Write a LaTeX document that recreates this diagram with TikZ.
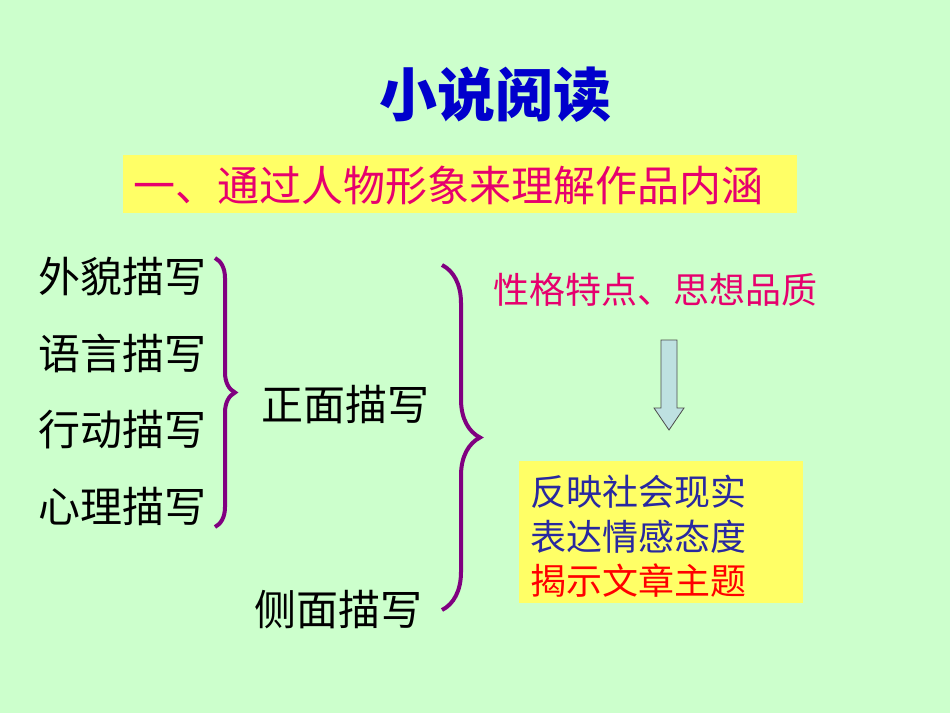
\documentclass[tikz,border=0pt]{standalone}
\usepackage{fontspec}
\newfontfamily\cjk{Noto Sans CJK SC}
\usetikzlibrary{decorations.pathreplacing}
\definecolor{bg}{RGB}{204,255,204}
\definecolor{ylw}{RGB}{255,255,102}
\definecolor{mag}{RGB}{230,0,110}
\definecolor{dblue}{RGB}{40,40,160}
\definecolor{purp}{RGB}{128,0,128}
\definecolor{arr}{RGB}{190,225,225}
\tikzset{
 t/.style={font=\cjk\fontsize{36}{40}\selectfont, inner sep=0pt},
 big/.style={font=\cjk\fontsize{42}{44}\selectfont},
 br/.style={draw=purp, line width=4pt, decorate, decoration={brace, amplitude=#1}}
}
\begin{document}
\begin{tikzpicture}[x=1pt,y=-1pt]
\fill[bg] (0,0) rectangle (950,713);
\useasboundingbox (0,0) rectangle (950,713);
\node[t, text=blue!80!black, font=\cjk\bfseries\fontsize{58}{60}\selectfont] (title) at (495,95) {小说阅读};
\node[fill=ylw, minimum width=674, minimum height=58, anchor=north west] (sub) at (123,155) {};
\node[t, big, text=mag, anchor=west] (subt) at (133,186) {一、通过人物形象来理解作品内涵};
\node[t, big, anchor=west] (a) at (38,276) {外貌描写};
\node[t, big, anchor=west] (b) at (38,353) {语言描写};
\node[t, big, anchor=west] (c) at (38,430) {行动描写};
\node[t, big, anchor=west] (d) at (38,506) {心理描写};
\draw[br=20pt] (215,258) -- (215,527);
\node[t, big] (zm) at (345,405) {正面描写};
\node[t, big] (cm) at (338,610) {侧面描写};
\draw[br=38pt] (442,265) -- (442,610);
\node[t, text=mag, anchor=west] (xg) at (493,290) {性格特点、思想品质};
\draw[draw=black!70, fill=arr, line width=0.8pt] (661,340) -- (677,340) -- (677,408) -- (684,408) -- (669,430) -- (654,408) -- (661,408) -- cycle;
\node[fill=ylw, minimum width=284, minimum height=142, anchor=north west] (box) at (519,461) {};
\node[t, text=dblue, anchor=west] (l1) at (530,492) {反映社会现实};
\node[t, text=dblue, anchor=west] (l2) at (530,537) {表达情感态度};
\node[t, text=red, anchor=west] (l3) at (530,581) {揭示文章主题};
\end{tikzpicture}
\end{document}
